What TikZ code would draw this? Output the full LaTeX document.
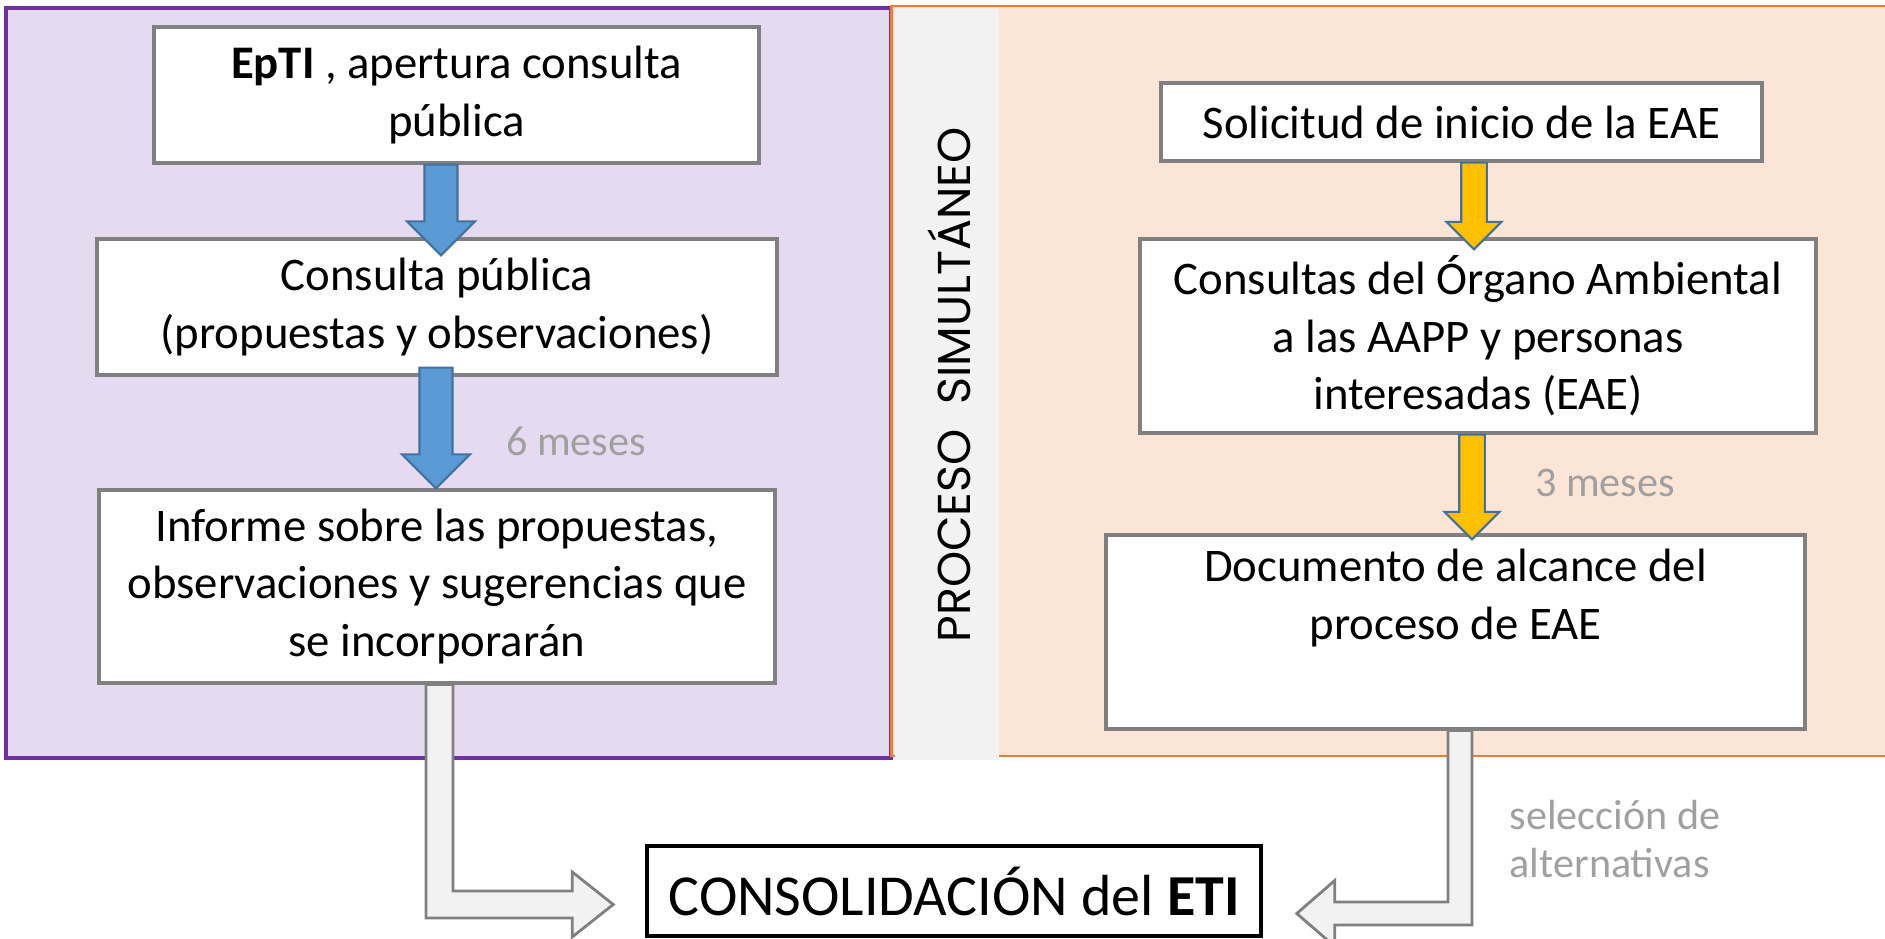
\documentclass[tikz,border=0pt]{standalone}
\usepackage{fontspec}
\setmainfont{Carlito}
\newfontfamily\gothicfont{Poppins}
\usetikzlibrary{calc}

\definecolor{lilac}{HTML}{E6DAF0}
\definecolor{plum}{HTML}{7030A0}
\definecolor{peach}{HTML}{FBE5D6}
\definecolor{tangerine}{HTML}{ED7D31}
\definecolor{mist}{HTML}{F2F2F2}
\definecolor{boxgrey}{HTML}{808080}
\definecolor{notegrey}{HTML}{A0A0A0}
\definecolor{sky}{HTML}{5B9BD5}
\definecolor{steel}{HTML}{41719C}
\definecolor{amber}{HTML}{FFC000}

\newcommand{\boxfont}{\fontsize{13.3}{16.4}\selectfont}
\newcommand{\notefont}{\fontsize{12}{13.7}\selectfont}

% block arrow pointing down: style, start, tip, shaft half width, head half width
\newcommand{\downblock}[5]{%
  \path[#1] let \p1=(#2), \p2=(#3) in
    (\x2-#4,\y1) -- (\x2+#4,\y1) -- (\x2+#4,\y2+#5) -- (\x2+#5,\y2+#5)
    -- (\x2,\y2) -- (\x2-#5,\y2+#5) -- (\x2-#4,\y2+#5) -- cycle;}

\begin{document}
\begin{tikzpicture}[
  stage/.style={draw=boxgrey, line width=0.9pt, fill=white, align=center,
    inner sep=0pt, font=\boxfont},
  note/.style={text=notegrey, font=\notefont, inner sep=0pt},
  bluearrow/.style={fill=sky, draw=steel, line width=0.6pt},
  goldarrow/.style={fill=amber, draw=steel, line width=0.6pt},
  elbow/.style={fill=mist, draw=boxgrey, line width=0.8pt},
]
\useasboundingbox (0,0) rectangle (18.85,9.38);

% background panels
\path[fill=lilac, draw=plum, line width=0.9pt] (0.06,9.30) rectangle (8.91,1.80);
\path[fill=peach, draw=tangerine, line width=0.8pt] (8.915,9.32) rectangle (19.2,1.82);
\path[fill=mist] (8.95,9.30) rectangle (9.99,1.78);
\node[rotate=90, font=\gothicfont\fontsize{13.1}{15}\selectfont] (simul) at (9.49,5.53) {PROCESO\ \ SIMULTÁNEO};

% left column
\node[stage, minimum width=6.05cm, minimum height=1.36cm] (epti) at (4.565,8.43)
  {\textbf{EpTI} , apertura consulta\\pública};
\node[stage, minimum width=6.80cm, minimum height=1.36cm] (consulta) at (4.37,6.31)
  {Consulta pública\\(propuestas y observaciones)};
\node[stage, minimum width=6.76cm, minimum height=1.93cm] (informe) at (4.37,3.515)
  {Informe sobre las propuestas,\\observaciones y sugerencias que\\se incorporarán};

% right column
\node[stage, minimum width=6.01cm, minimum height=0.78cm] (solicitud) at (14.615,8.16)
  {Solicitud de inicio de la EAE};
\node[stage, minimum width=6.76cm, minimum height=1.94cm] (consultas) at (14.78,6.02)
  {Consultas del Órgano Ambiental\\a las AAPP y personas\\interesadas (EAE)};
\node[stage, minimum width=6.99cm, minimum height=1.94cm] (documento) at (14.555,3.06)
  {Documento de alcance del\\proceso de EAE\\\strut};

\node[draw=black, line width=1pt, fill=white, inner sep=0pt, minimum width=6.14cm,
  minimum height=0.90cm, font=\fontsize{16.5}{20}\selectfont] (consol) at (9.54,0.47)
  {CONSOLIDACIÓN del \textbf{ETI}};

% arrows
\downblock{bluearrow}{epti.south}{$(4.41,0 |- consulta.north)+(0,-0.18)$}{0.165cm}{0.34cm}
\downblock{bluearrow}{$(consulta.south)+(0,0.09)$}{4.36,0 |- informe.north}{0.165cm}{0.34cm}
\downblock{goldarrow}{solicitud.south}{$(14.74,0 |- consultas.north)+(0,-0.12)$}{0.128cm}{0.275cm}
\downblock{goldarrow}{consultas.south}{$(14.72,0 |- documento.north)+(0,-0.06)$}{0.128cm}{0.275cm}

\path[elbow] let \p1=($(informe.south)+(0.025,0)$), \p2=($(consol.west)+(-0.32,-0.135)$) in
  (\x1-0.135cm,\y1) -- (\x1-0.135cm,\y2-0.135cm) -- (\x2-0.41cm,\y2-0.135cm)
  -- (\x2-0.41cm,\y2-0.325cm) -- (\p2) -- (\x2-0.41cm,\y2+0.325cm)
  -- (\x2-0.41cm,\y2+0.135cm) -- (\x1+0.135cm,\y2+0.135cm) -- (\x1+0.135cm,\y1) -- cycle;
\path[elbow] let \p1=($(documento.south)+(0.045,0)$), \p2=($(consol.east)+(0.34,-0.225)$) in
  (\x1+0.12cm,\y1) -- (\x1+0.12cm,\y2-0.115cm) -- (\x2+0.38cm,\y2-0.115cm)
  -- (\x2+0.38cm,\y2-0.33cm) -- (\p2) -- (\x2+0.38cm,\y2+0.33cm)
  -- (\x2+0.38cm,\y2+0.115cm) -- (\x1-0.12cm,\y2+0.115cm) -- (\x1-0.12cm,\y1) -- cycle;

% notes
\node[note] (seis) at (5.76,4.97) {6 meses};
\node[note] (tres) at (16.05,4.55) {3 meses};
\node[note, align=left, anchor=west] (seleccion) at (15.09,0.99) {selección de\\alternativas};
\end{tikzpicture}
\end{document}
